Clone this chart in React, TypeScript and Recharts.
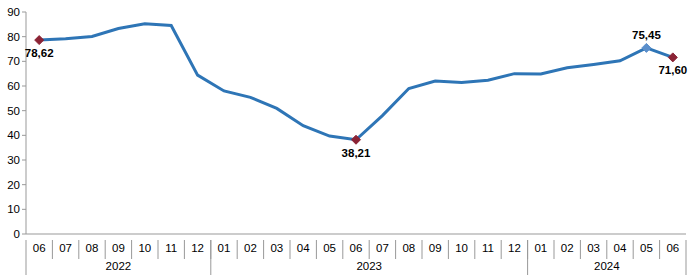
import { LineChart, Line, XAxis, YAxis, LabelList } from "recharts";

const months = [
  "06", "07", "08", "09", "10", "11", "12",
  "01", "02", "03", "04", "05", "06", "07", "08", "09", "10", "11", "12",
  "01", "02", "03", "04", "05", "06",
];
const values = [
  78.62, 79.2, 80.1, 83.3, 85.2, 84.5, 64.4,
  58.0, 55.4, 50.9, 43.9, 39.7, 38.21, 48.0, 59.0, 62.0, 61.4, 62.3, 65.0,
  64.9, 67.4, 68.7, 70.2, 75.45, 71.6,
];
const years = ["2022", "2023", "2024"];
const yearStart = [0, 7, 19];
const yTicks = [0, 10, 20, 30, 40, 50, 60, 70, 80, 90];

// highlighted points
const marked = [0, 12, 23, 24];
const labelAbove = [23];

const data = months.map((m, i) => ({ m, i, v: values[i] }));

const W = 690;
const H = 275;
const LEFT = 26;
const RIGHT = 4;
const BW = (W - LEFT - RIGHT) / months.length;
const FONT = "'Liberation Sans', Arial, sans-serif";

const renderTick = (props: any) => {
  const { x, y, payload } = props;
  const index = payload.value as number;
  const gi = yearStart.indexOf(index);
  const left = x - BW / 2;
  const right = x + BW / 2;
  let year = null;
  if (gi >= 0) {
    const end = gi + 1 < yearStart.length ? yearStart[gi + 1] : months.length;
    const cx = left + ((end - index) * BW) / 2;
    year = (
      <text x={cx} y={y + 28} textAnchor="middle" fontSize={11.5} fill="#000" fontFamily={FONT}>
        {years[gi]}
      </text>
    );
  }
  const isLast = index === months.length - 1;
  return (
    <g key={index}>
      <line x1={right} x2={right} y1={y - 2} y2={isLast ? y + 37 : y + 17} stroke="#999" strokeWidth={1} />
      {gi >= 0 && <line x1={left} x2={left} y1={y - 2} y2={y + 37} stroke="#999" strokeWidth={1} />}
      <text x={x} y={y + 10} textAnchor="middle" fontSize={11.5} fill="#000" fontFamily={FONT}>
        {months[index]}
      </text>
      {year}
    </g>
  );
};

const renderDot = (props: any) => {
  const { cx, cy, index } = props;
  if (!marked.includes(index)) return <g key={index} />;
  const r = 4.5;
  const fill = labelAbove.includes(index) ? "#5B8FCB" : "#8B2335";
  return (
    <path
      key={index}
      d={`M${cx},${cy - r} L${cx + r},${cy} L${cx},${cy + r} L${cx - r},${cy} Z`}
      fill={fill}
      stroke={fill}
    />
  );
};

const renderLabel = (props: any) => {
  const { x, y, index, value } = props;
  if (!marked.includes(index)) return null;
  const above = labelAbove.includes(index);
  return (
    <text
      key={index}
      x={x}
      y={above ? y - 9 : y + 17}
      textAnchor="middle"
      fontSize={11.5}
      fontWeight="bold"
      fill="#000"
      fontFamily={FONT}
    >
      {Number(value).toFixed(2).replace(".", ",")}
    </text>
  );
};

export default function App() {
  return (
    <div style={{ position: "absolute", left: 0, top: 0, background: "#fff" }}>
      <LineChart width={W} height={H} data={data} margin={{ top: 12, right: RIGHT, bottom: 0, left: 0 }}>
        <XAxis
          dataKey="i"
          type="category"
          interval={0}
          height={41}
          padding={{ left: BW / 2, right: BW / 2 }}
          tickLine={false}
          axisLine={{ stroke: "#999" }}
          tick={renderTick}
        />
        <YAxis
          width={LEFT}
          domain={[0, 90]}
          ticks={yTicks}
          interval={0}
          tickSize={4}
          tickLine={{ stroke: "#999" }}
          axisLine={{ stroke: "#999" }}
          tick={{ fontSize: 11.5, fill: "#000", fontFamily: FONT }}
        />
        <Line
          type="linear"
          dataKey="v"
          stroke="#2E75B6"
          strokeWidth={3}
          dot={renderDot}
          activeDot={false}
          isAnimationActive={false}
        >
          <LabelList dataKey="v" content={renderLabel} />
        </Line>
      </LineChart>
    </div>
  );
}
